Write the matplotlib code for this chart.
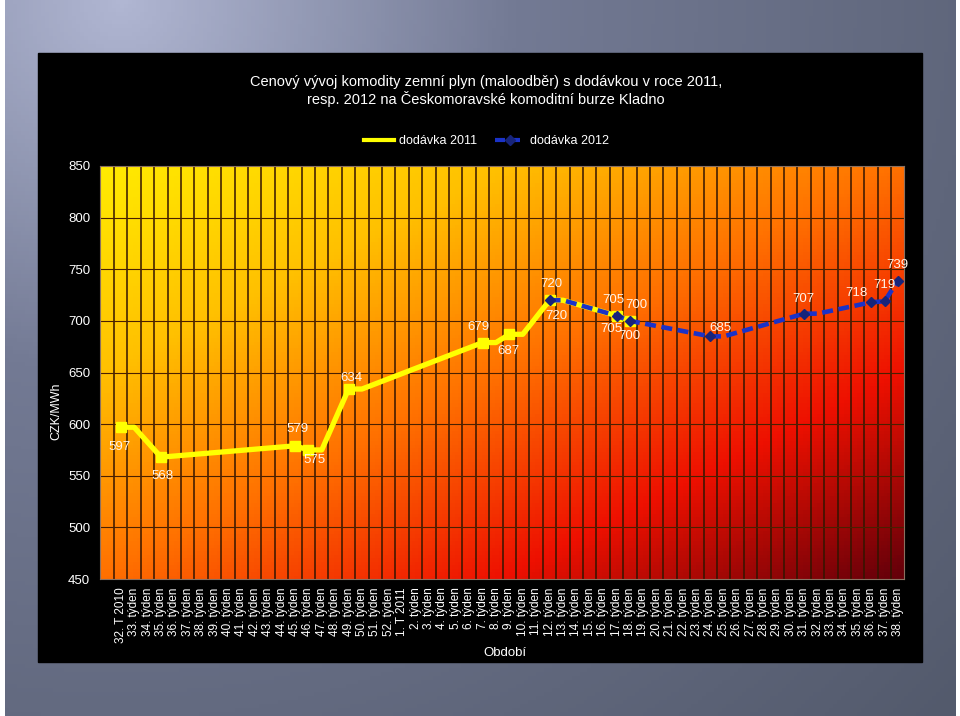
import numpy as np
import matplotlib
matplotlib.use('Agg')
import matplotlib.pyplot as plt
from matplotlib.colors import LinearSegmentedColormap
from matplotlib.patches import Rectangle
from matplotlib.lines import Line2D

plt.rcParams['font.family'] = ['Liberation Sans', 'DejaVu Sans']

# category labels (weeks)
weeks = (["32. T 2010"] + [f"{w}. týden" for w in range(33, 53)]
         + ["1. T 2011"] + [f"{w}. týden" for w in range(2, 39)])

# dodávka 2011 - week index and price (CZK/MWh)
idx_2011 = [0, 1, 3, 13, 14, 15, 17, 18, 27, 28, 29, 30, 32, 33, 37, 38]
val_2011 = [597, 597, 568, 579, 575, 575, 634, 634, 679, 679, 687, 687, 720, 720, 705, 700]
mark_2011 = [0, 3, 13, 14, 17, 27, 29, 32, 37, 38]

# dodávka 2012
idx_2012 = [32, 33, 37, 38, 44, 45, 51, 52, 56, 57, 58]
val_2012 = [720, 720, 705, 700, 685, 685, 707, 707, 718, 719, 739]
mark_2012 = [32, 37, 38, 44, 51, 56, 57, 58]

# label offsets in pixels for each marked point
off_2011 = [(-1, -20), (1, -19), (2, 17), (6, -10), (3, 11), (-4, 16),
            (-1, -17), (2, 16), (-3, 16), (6, 16)]
off_2012 = [(7, -16), (-5, -13), (-1, -15), (10, 8), (-1, 15), (-15, 9),
            (0, 16), (-1, 16)]

fig = plt.figure(figsize=(9.6, 7.16), dpi=100)

# slide background
bg = fig.add_axes([0, 0, 1, 1])
bg.set_axis_off()
bg.set_xlim(0, 1)
bg.set_ylim(0, 1)
H, W = 180, 240
yy, xx = np.mgrid[0:H, 0:W]
d = np.sqrt((xx / W - 0.12) ** 2 + (yy / H * 0.8) ** 2)
d = d / d.max()
bg_cmap = LinearSegmentedColormap.from_list(
    'bg', [(0, '#b0b6d2'), (0.35, '#737a94'), (1, '#535a6c')])
bg.imshow(d, cmap=bg_cmap, extent=[5 / 960, 956 / 960, 0, 1], aspect='auto', zorder=1)
bg.add_patch(Rectangle((38 / 960, 1 - 662 / 716), 884 / 960, 609 / 716,
                       color='black', zorder=2))

# plot area
ax = fig.add_axes([100 / 960, 1 - 579 / 716, 804 / 960, 413 / 716])
x0, x1 = -1.55, 58.45
ax.set_xlim(x0, x1)
ax.set_ylim(450, 850)
gy, gx = np.mgrid[0:120, 0:240]
g = (gx / 239 + gy / 119) / 2
area_cmap = LinearSegmentedColormap.from_list(
    'area', [(0, '#ffeb00'), (0.25, '#ffc000'), (0.5, '#ff7000'),
             (0.75, '#ee1000'), (1, '#64000a')])
ax.imshow(g, cmap=area_cmap, extent=[x0, x1, 450, 850], aspect='auto', zorder=0)
ax.vlines(np.arange(-0.5, 58), 450, 850, color='#331500', lw=1.1, zorder=1)
ax.hlines(np.arange(500, 850, 50), x0, x1, color='#4a2000', lw=0.8, zorder=1)

ax.plot(idx_2011, val_2011, color='#ffff00', lw=3.8, zorder=3)
mk = [idx_2011.index(i) for i in mark_2011]
ax.plot([idx_2011[k] for k in mk], [val_2011[k] for k in mk], 's',
        color='#ffff00', ms=6.5, zorder=3)

ax.plot(idx_2012, val_2012, color='#1a32c8', lw=3.3, ls=(0, (2.4, 1.2)), zorder=4)
mk2 = [idx_2012.index(i) for i in mark_2012]
ax.plot([idx_2012[k] for k in mk2], [val_2012[k] for k in mk2], 'D',
        color='#17247a', ms=5.5, zorder=5)

for k, off in zip(mk, off_2011):
    ax.annotate(str(val_2011[k]), (idx_2011[k], val_2011[k]), xytext=off,
                textcoords='offset pixels', ha='center', va='center',
                fontsize=9.5, color='#fff4e8', zorder=6)
for k, off in zip(mk2, off_2012):
    ax.annotate(str(val_2012[k]), (idx_2012[k], val_2012[k]), xytext=off,
                textcoords='offset pixels', ha='center', va='center',
                fontsize=9.5, color='#fff4e8', zorder=6)

ax.set_xticks(range(len(weeks)))
ax.set_xticklabels(weeks, rotation=90, fontsize=8.5, color='white')
ax.set_yticks(range(450, 851, 50))
ax.tick_params(axis='y', labelsize=9.5, labelcolor='white', length=0, pad=7)
ax.tick_params(axis='x', length=0, pad=6)
for s in ax.spines.values():
    s.set_color('#8a7060')
    s.set_linewidth(0.8)

fig.text(0.506, 0.873,
         "Cenový vývoj komodity zemní plyn (maloodběr) s dodávkou v roce 2011,\n"
         "resp. 2012 na Českomoravské komoditní burze Kladno",
         ha='center', va='center', fontsize=10.5, color='white', linespacing=1.2)
fig.text(0.059, 0.425, 'CZK/MWh', rotation=90, ha='center', va='center',
         fontsize=9, color='white')
fig.text(0.526, 0.088, 'Období', ha='center', va='center', fontsize=9.5, color='white')

handles = [Line2D([], [], color='#ffff00', lw=3),
           Line2D([], [], color='#1a32c8', lw=3, ls=(0, (2.4, 1.2)),
                  marker='D', mfc='#17247a', mec='#17247a', ms=5)]
fig.legend(handles, ['dodávka 2011', 'dodávka 2012'], loc='center',
           bbox_to_anchor=(0.507, 0.803), ncol=2, frameon=False, fontsize=9,
           labelcolor='white', handlelength=2.4, handletextpad=0.4,
           columnspacing=1.4)

fig.savefig('out.png', dpi=100, facecolor='white')
